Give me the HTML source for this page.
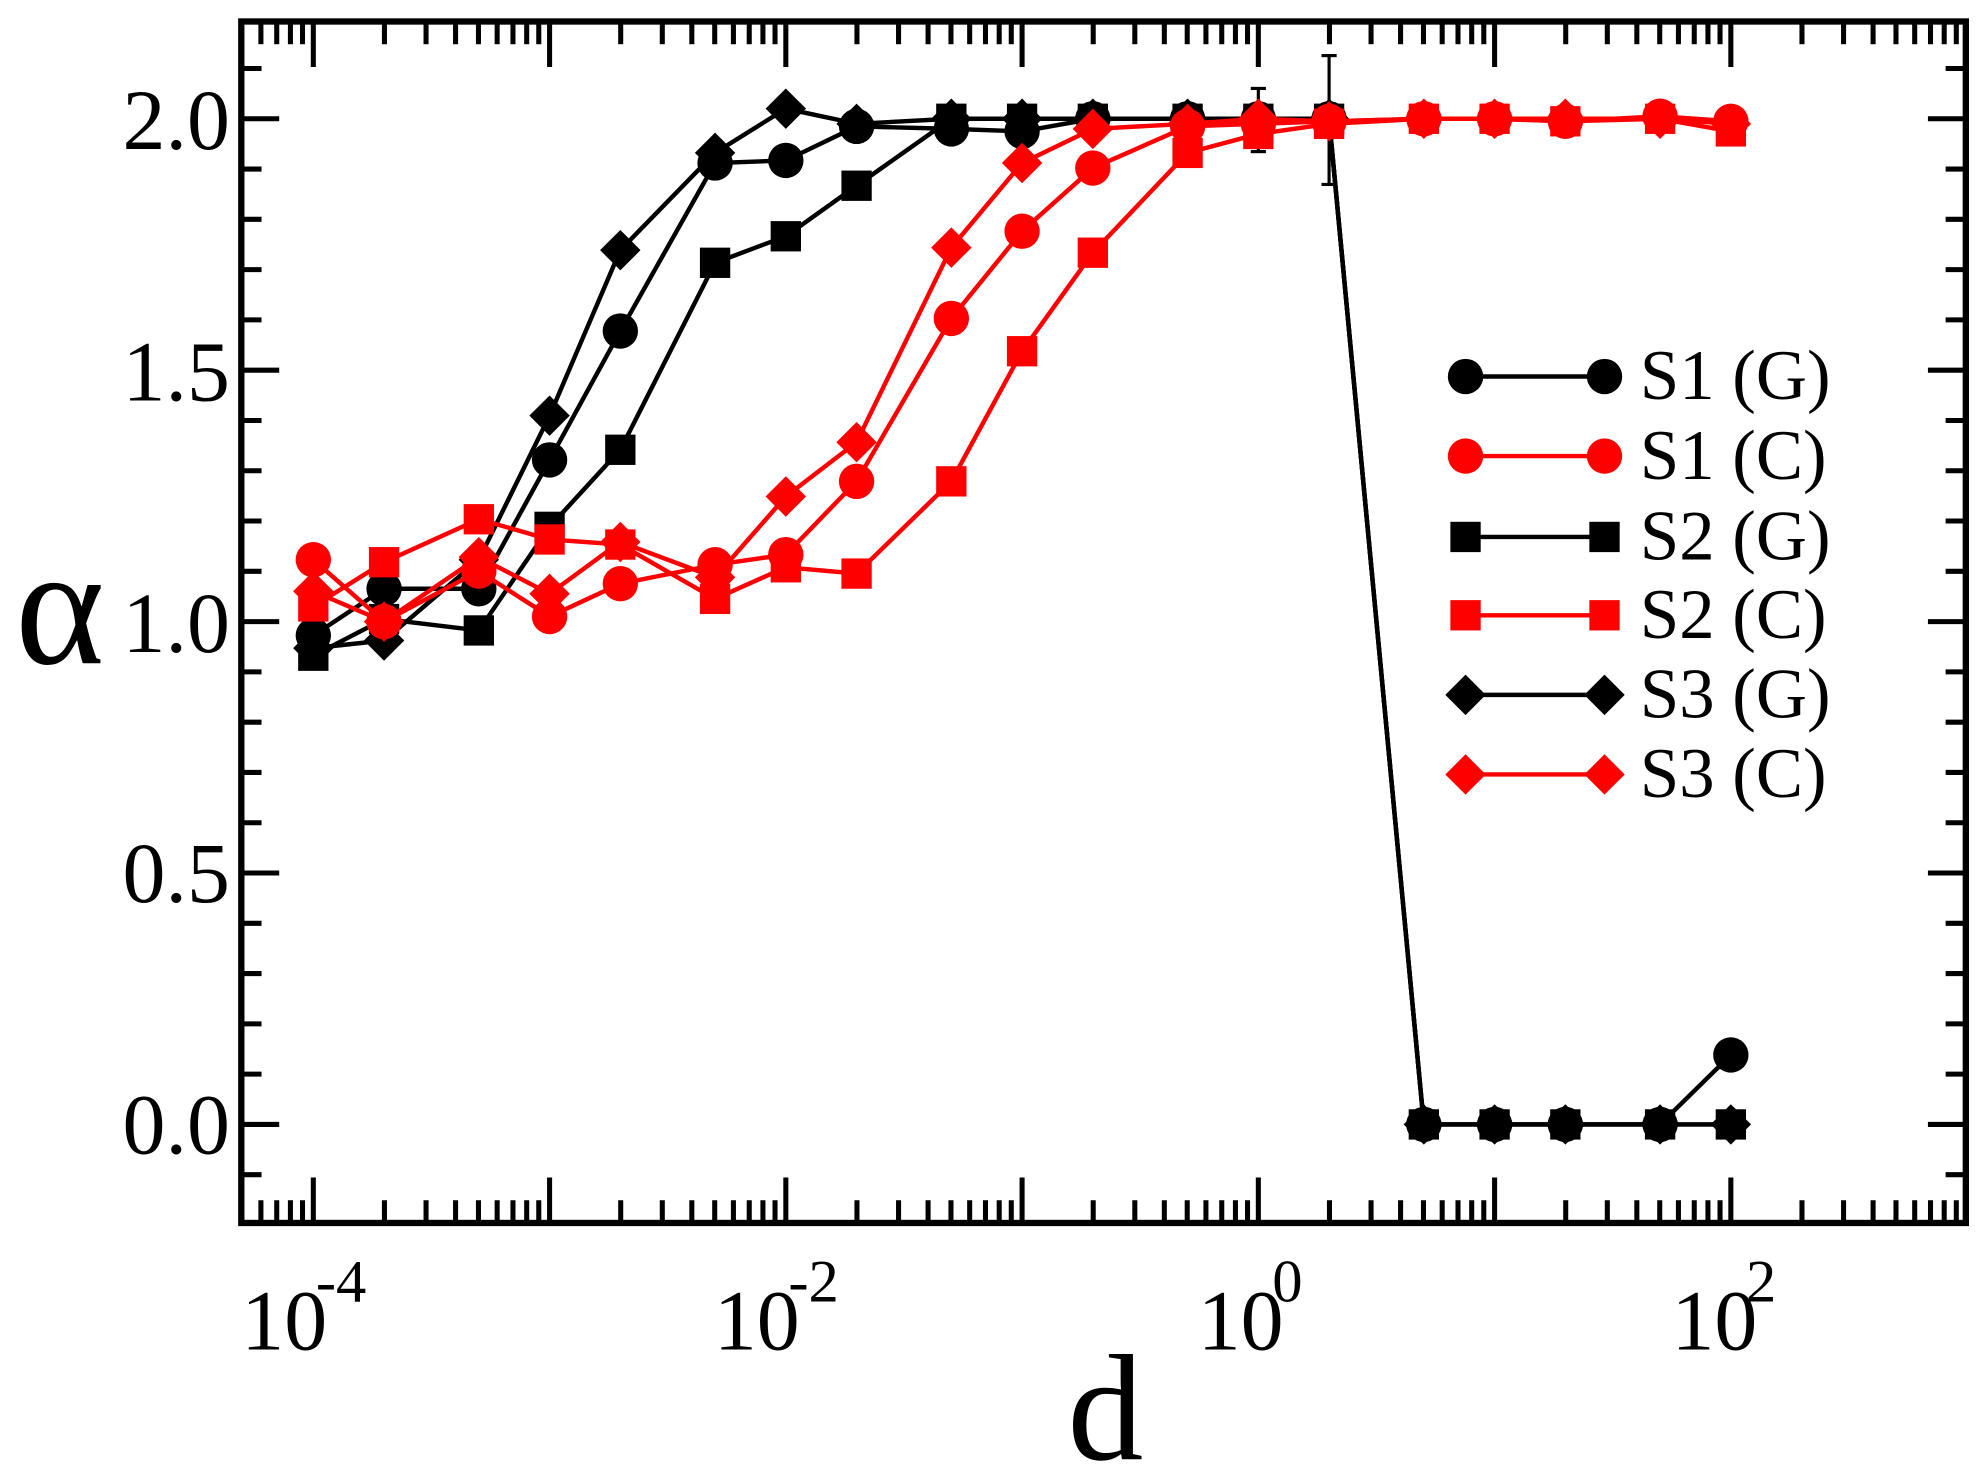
<!DOCTYPE html>
<html><head><style>html,body{margin:0;padding:0;background:#fff}svg{display:block}</style></head><body>
<svg width="1981" height="1484" viewBox="0 0 1568 1174.6" xmlns="http://www.w3.org/2000/svg" font-family="Liberation Serif, serif">
<g id="ticks" stroke="#000" stroke-width="4"></g>
<rect x="191" y="17" width="1365" height="951" fill="none" stroke="#000" stroke-width="5"/>
<g id="data"></g>
<g font-size="68" text-anchor="end">
<text x="182" y="913">0.0</text><text x="182" y="714">0.5</text><text x="182" y="516">1.0</text><text x="182" y="317">1.5</text><text x="182" y="118">2.0</text>
</g>
<g font-size="68">
<text x="191" y="1068">10</text><text x="250" y="1030" font-size="48">-4</text>
<text x="565" y="1068">10</text><text x="624" y="1030" font-size="48">-2</text>
<text x="948" y="1068">10</text><text x="1007" y="1030" font-size="48">0</text>
<text x="1323" y="1068">10</text><text x="1382" y="1030" font-size="48">2</text>
</g>
<text x="845" y="1155" font-size="120">d</text>
<text x="12" y="525" font-size="135">α</text>
<g font-size="56">
<text x="1298" y="316">S1 (G)</text><text x="1298" y="379">S1 (C)</text><text x="1298" y="443">S2 (G)</text>
<text x="1298" y="505">S2 (C)</text><text x="1298" y="568">S3 (G)</text><text x="1298" y="631">S3 (C)</text>
</g>
<script>
const NS="http://www.w3.org/2000/svg";
const t=document.getElementById('ticks');
function ln(g,x1,y1,x2,y2,c,w){const l=document.createElementNS(NS,'line');l.setAttribute('x1',x1);l.setAttribute('y1',y1);l.setAttribute('x2',x2);l.setAttribute('y2',y2);if(c)l.setAttribute('stroke',c);if(w)l.setAttribute('stroke-width',w);g.appendChild(l);}
const X=v=>996+187*v;
for(let d=-5;d<=2;d++){for(let m=1;m<10;m++){const x=X(d+Math.log10(m));if(x<193||x>1554)continue;const L=m==1?36:18;ln(t,x,968,x,968-L);ln(t,x,17,x,17+L);}}
for(let i=-1;i<=21;i++){const y=890-i*0.1*398;if(y<19||y>966)continue;const L=i%5==0?30:16;ln(t,191,y,191+L,y);ln(t,1556,y,1556-L,y);}
const xs=[248,304,379,435,491,566,622,678,753,809,865,940,996,1052,1127,1183,1239,1314,1370];
const S={
c1g:[503,466,466,364,262,129,127,100,102,104,94,94,94,94,890,890,890,890,835],
s2g:[519,490,499,417,356,208,187,147,94,94,94,94,94,94,890,890,890,890,890],
d3g:[513,507,443,329,198,121,86,98,94,94,94,94,94,94,890,890,890,890,890],
c1c:[443,492,452,488,462,447,439,381,252,183,133,100,98,96,94,94,96,92,96],
s2c:[480,445,411,427,431,474,449,454,381,278,200,121,106,98,94,94,96,94,104],
d3c:[468,492,441,470,429,457,393,350,196,129,102,98,94,96,94,94,94,94,98]};
const g=document.getElementById('data');
function mk(type,x,y,col){let e;if(type=='c'){e=document.createElementNS(NS,'circle');e.setAttribute('cx',x);e.setAttribute('cy',y);e.setAttribute('r',14);}else if(type=='s'){e=document.createElementNS(NS,'rect');e.setAttribute('x',x-12);e.setAttribute('y',y-12);e.setAttribute('width',24);e.setAttribute('height',24);}else{e=document.createElementNS(NS,'polygon');e.setAttribute('points',`${x},${y-16} ${x+16},${y} ${x},${y+16} ${x-16},${y}`);}e.setAttribute('fill',col);g.appendChild(e);}
function series(ys,type,col){const p=document.createElementNS(NS,'polyline');p.setAttribute('points',ys.map((y,i)=>xs[i]+','+y).join(' '));p.setAttribute('fill','none');p.setAttribute('stroke',col);p.setAttribute('stroke-width',3.5);g.appendChild(p);ys.forEach((y,i)=>mk(type,xs[i],y,col));}
const R='#ff0000',B='#000';
ln(g,996,70,996,120,B,2.5);ln(g,990,70,1002,70,B,2.5);ln(g,990,120,1002,120,B,2.5);
ln(g,1052,44,1052,146,B,2.5);ln(g,1046,44,1058,44,B,2.5);ln(g,1046,146,1058,146,B,2.5);
series(S.s2g,'s',B);series(S.c1g,'c',B);series(S.d3g,'d',B);
series(S.s2c,'s',R);series(S.c1c,'c',R);series(S.d3c,'d',R);
const leg=[['c',B,298],['c',R,361],['s',B,425],['s',R,487],['d',B,550],['d',R,613]];
leg.forEach(([ty,c,y])=>{ln(g,1160,y,1270,y,c,3.5);mk(ty,1160,y,c);mk(ty,1270,y,c);});
</script>
</svg>
</body></html>
